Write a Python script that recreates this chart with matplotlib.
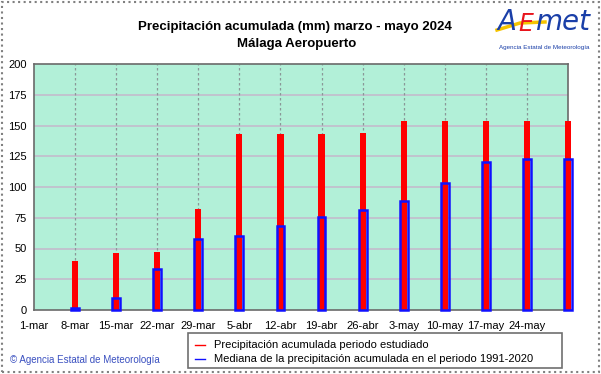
import matplotlib
matplotlib.use("Agg")
import matplotlib.pyplot as plt
from matplotlib.lines import Line2D
from matplotlib.patches import Rectangle
import numpy as np

plt.rcParams["font.family"] = ["Liberation Sans", "DejaVu Sans"]

week_labels = ["1-mar", "8-mar", "15-mar", "22-mar", "29-mar", "5-abr", "12-abr",
               "19-abr", "26-abr", "3-may", "10-may", "17-may", "24-may", ""]
# accumulated precipitation for each week end (8-mar ... 31-may)
precip_2024 = [40, 46, 47, 82, 143, 143, 143, 143.5, 153.5, 153.5, 153.5, 153.5, 153.5]
median_1991_2020 = [2, 10, 33, 58, 60, 68, 76, 81, 89, 103, 120.5, 123, 123]
y_ticks = [0, 25, 50, 75, 100, 125, 150, 175, 200]

RED = "#ff0000"
BLUE = "#1010ff"
BG = "#b2f0d8"

fig = plt.figure(figsize=(6.01, 3.74), dpi=100)
ax = fig.add_axes([34 / 601, 1 - 310 / 374, 534 / 601, 246 / 374])
ax.set_facecolor(BG)

pos = np.arange(1, len(precip_2024) + 1)
ax.bar(pos, precip_2024, width=0.15, color=RED, zorder=3, clip_on=False)
ax.bar(pos, median_1991_2020, width=0.19, facecolor="none", edgecolor=BLUE,
       linewidth=1.8, zorder=4, clip_on=False)

ax.set_xlim(0, 13)
ax.set_ylim(0, 200)
ax.set_yticks(y_ticks)
ax.set_yticklabels([str(v) for v in y_ticks], fontsize=8)
ax.set_xticks(np.arange(len(week_labels)))
ax.set_xticklabels(week_labels, fontsize=8)
ax.tick_params(axis="y", length=0, pad=5)
ax.tick_params(axis="x", length=0, pad=8)
for v in y_ticks[1:-1]:
    ax.axhline(v, color="#c4bccc", linewidth=1.2, zorder=1)
for p in range(1, 13):
    ax.axvline(p, color="#8a9898", linewidth=0.9, linestyle=(0, (2, 2)), zorder=1)
for s in ax.spines.values():
    s.set_color("#6a6a6a")
    s.set_linewidth(1.2)

fig.text(295 / 601, 1 - 27 / 374, "Precipitación acumulada (mm) marzo - mayo 2024",
         ha="center", va="center", fontsize=9.5, fontweight="bold")
fig.text(297 / 601, 1 - 44 / 374, "Málaga Aeropuerto",
         ha="center", va="center", fontsize=9.5, fontweight="bold")

# AEMET logo approximation: blue A, red E, blue "met" with a yellow swoosh
fig.lines.append(Line2D([497 / 601, 520 / 601, 545 / 601], [1 - 30 / 374, 1 - 23 / 374, 1 - 22 / 374],
                        transform=fig.transFigure, color="#f5c400", linewidth=2.5))
fig.text(507 / 601, 1 - 22 / 374, "A", ha="center", va="center", fontsize=20,
         style="italic", color="#1a3fa8", family="DejaVu Sans")
fig.text(526 / 601, 1 - 24 / 374, "E", ha="center", va="center", fontsize=17,
         style="italic", color="#e8141c", family="DejaVu Sans")
fig.text(563 / 601, 1 - 22 / 374, "met", ha="center", va="center", fontsize=20,
         style="italic", color="#1a3fa8", family="DejaVu Sans")
fig.text(544 / 601, 1 - 47 / 374, "Agencia Estatal de Meteorología", ha="center",
         va="center", fontsize=4.5, color="#1a3fa8")

fig.text(10 / 601, 1 - 360 / 374, "© Agencia Estatal de Meteorología", ha="left",
         va="center", fontsize=7, color="#3a50c0")

# legend box
fig.patches.append(Rectangle((188 / 601, 1 - 368 / 374), 374 / 601, 35 / 374,
                             transform=fig.transFigure, facecolor="white",
                             edgecolor="#707070", linewidth=1.2))
for yy, col, txt in [(345, RED, "Precipitación acumulada periodo estudiado"),
                     (359, BLUE, "Mediana de la precipitación acumulada en el periodo 1991-2020")]:
    fig.lines.append(Line2D([195 / 601, 205 / 601], [1 - yy / 374] * 2,
                            transform=fig.transFigure, color=col, linewidth=1))
    fig.text(214 / 601, 1 - yy / 374, txt, ha="left", va="center", fontsize=8)

# outer frame
fig.patches.append(Rectangle((1.5 / 601, 1 - 372 / 374), 597 / 601, 370 / 374,
                             transform=fig.transFigure, facecolor="none",
                             edgecolor="#808080", linewidth=1.5, linestyle=":"))

fig.savefig("out.png", dpi=100)
